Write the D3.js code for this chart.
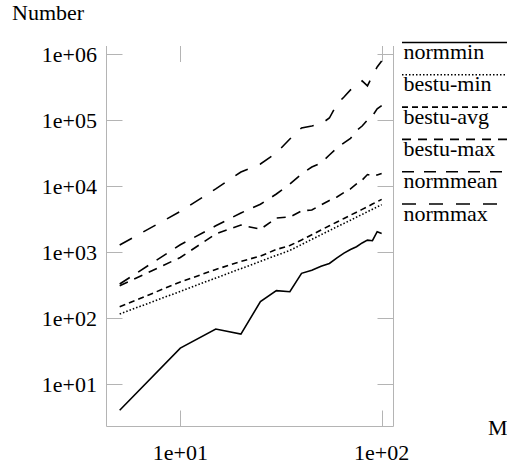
<!DOCTYPE html>
<html>
<head>
<meta charset="utf-8">
<script src="https://cdn.jsdelivr.net/npm/d3@7"></script>
<style>
  body { margin: 0; background: #fff; }
  svg { display: block; }
  svg text { font-family: "Times New Roman", Times, "Liberation Serif", serif; }
</style>
</head>
<body>
<div id="chart"></div>
<script>
// x values (problem size) and the six series
var sizes = [5, 10, 15, 20, 25, 30, 35, 40, 45, 50, 55, 60, 65, 70, 75, 80, 85, 90, 95, 100];

var normmin = [4.0, 35, 68, 57, 177, 260, 250, 475, 530, 610, 670, 816, 960, 1090, 1200, 1370, 1510, 1480, 2030, 1910];
var bestuMin = [115, 253, 403, 559, 721, 888, 1057, 1295, 1553, 1823, 2110, 2410, 2710, 3030, 3370, 3710, 4065, 4435, 4820, 5210];
var bestuAvg = [148, 351, 543, 718, 869, 1091, 1254, 1520, 1823, 2155, 2494, 2850, 3220, 3610, 4010, 4420, 4850, 5320, 5780, 6270];
var bestuMax = [308, 826, 1875, 2565, 2210, 3275, 3390, 4180, 4330, 5150, 6030, 6810, 7950, 9010, 10730, 12300, 14900, 14200, 14700, 15500];
var normmean = [327, 1286, 2490, 3900, 5280, 7560, 10700, 15200, 19400, 22300, 29500, 37700, 44900, 52500, 69300, 81000, 100000, 115000, 147000, 165000];
var normmax = [1277, 4110, 9020, 16300, 21500, 31600, 51500, 75700, 81000, 87000, 107000, 174000, 223000, 285000, 328000, 390000, 328000, 464000, 635000, 783000];

var seriesNames = ["normmin", "bestu-min", "bestu-avg", "bestu-max", "normmean", "normmax"];
var seriesValues = [normmin, bestuMin, bestuAvg, bestuMax, normmean, normmax];
var dashes = ["none", "1.5,2", "6,4", "9,7", "12,10", "14,13"];

var xTicks = [10, 100];
var xTickLabels = ["1e+01", "1e+02"];
var yTicks = [10, 100, 1000, 10000, 100000, 1000000];
var yTickLabels = ["1e+01", "1e+02", "1e+03", "1e+04", "1e+05", "1e+06"];

var width = 507,
  height = 470;

// plot frame
var f = { l: 106.5, r: 393.5, t: 46, b: 426.5 };

var x = d3.scaleLog().domain([4.3, 114.5]).range([f.l, f.r]);
var y = d3.scaleLog().domain([2.27, 1.32e6]).range([f.b, f.t]);

var svg = d3
  .select("#chart")
  .append("svg")
  .attr("width", width)
  .attr("height", height)
  .attr("font-size", 22);

var axisColor = "#b4b4b4";
var tickLen = 16;

// frame: left, bottom, right (no top line)
svg
  .append("path")
  .attr("d", "M" + f.l + "," + f.t + "V" + f.b + "H" + f.r + "V" + f.t)
  .attr("fill", "none")
  .attr("stroke", axisColor)
  .attr("stroke-width", 1);

// y ticks on both sides
yTicks.forEach(function(v, i) {
  var yy = Math.round(y(v)) + 0.5;
  svg.append("line")
    .attr("x1", f.l).attr("x2", f.l + tickLen)
    .attr("y1", yy).attr("y2", yy)
    .attr("stroke", axisColor);
  svg.append("line")
    .attr("x1", f.r - tickLen).attr("x2", f.r)
    .attr("y1", yy).attr("y2", yy)
    .attr("stroke", axisColor);
  svg.append("text")
    .attr("x", 97)
    .attr("y", y(v) + 8)
    .attr("text-anchor", "end")
    .text(yTickLabels[i]);
});

// x ticks top and bottom
xTicks.forEach(function(v, i) {
  var xx = Math.round(x(v)) + 0.5;
  svg.append("line")
    .attr("x1", xx).attr("x2", xx)
    .attr("y1", f.b - tickLen).attr("y2", f.b)
    .attr("stroke", axisColor);
  svg.append("line")
    .attr("x1", xx).attr("x2", xx)
    .attr("y1", f.t).attr("y2", f.t + tickLen)
    .attr("stroke", axisColor);
  svg.append("text")
    .attr("x", x(v))
    .attr("y", 460)
    .attr("text-anchor", "middle")
    .text(xTickLabels[i]);
});

// axis titles
svg.append("text")
  .attr("x", 12)
  .attr("y", 20)
  .text("Number");

svg.append("text")
  .attr("x", 488)
  .attr("y", 435)
  .text("M");

var line = d3
  .line()
  .x(function(d) {
    return x(d[0]);
  })
  .y(function(d) {
    return y(d[1]);
  });

seriesValues.forEach(function(vals, i) {
  svg.append("path")
    .datum(sizes.map(function(s, j) {
      return [s, vals[j]];
    }))
    .attr("d", line)
    .attr("fill", "none")
    .attr("stroke", "#000")
    .attr("stroke-width", 1.6)
    .attr("stroke-dasharray", dashes[i]);
});

// legend at the right edge: line above each label
var leg = { x: 402, y0: 42.5, step: 32.3 };
seriesNames.forEach(function(name, i) {
  var ly = leg.y0 + i * leg.step;
  svg.append("line")
    .attr("x1", leg.x).attr("x2", width + 5)
    .attr("y1", ly).attr("y2", ly)
    .attr("stroke", "#000")
    .attr("stroke-width", 1.6)
    .attr("stroke-dasharray", dashes[i]);
  svg.append("text")
    .attr("x", leg.x + 1.5)
    .attr("y", ly + 16.5)
    .text(name);
});
</script>
</body>
</html>
